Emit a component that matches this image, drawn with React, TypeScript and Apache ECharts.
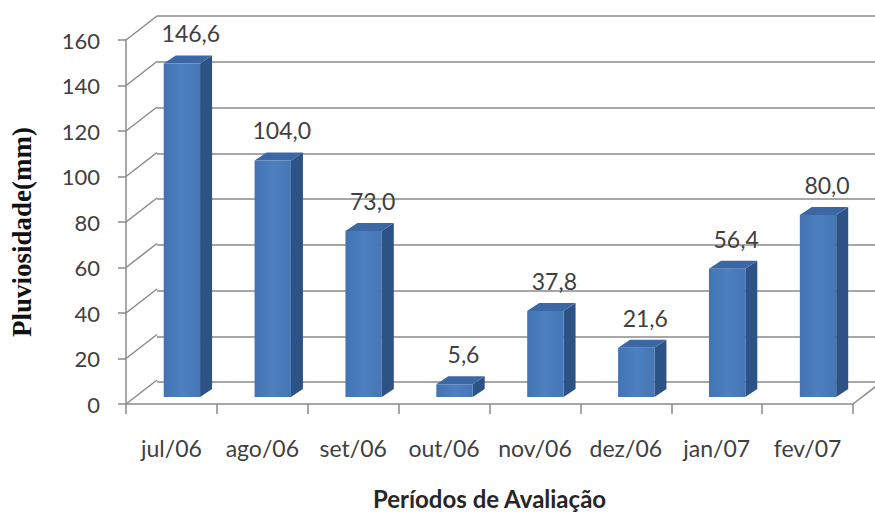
import React, { useEffect, useRef } from 'react';
import * as echarts from 'echarts';

const categories = ['jul/06', 'ago/06', 'set/06', 'out/06', 'nov/06', 'dez/06', 'jan/07', 'fev/07'];
const rainfall = [146.6, 104.0, 73.0, 5.6, 37.8, 21.6, 56.4, 80.0];
const yTicks = [0, 20, 40, 60, 80, 100, 120, 140, 160];

const xTitle = 'Períodos de Avaliação';
const yTitle = 'Pluviosidade(mm)';

const DEPTH_X = 31;
const DEPTH_Y = -24;
const GRID_LEFT = 126;
const GRID_TOP = 40;
const GRID_W = 727;
const GRID_H = 366;

const FONT = 'Lato, "Open Sans", sans-serif';
const LINE = '#8a8a8a';
const TEXT = '#404040';

export default function App() {
  const ref = useRef<HTMLDivElement>(null);
  useEffect(() => {
    const chart = echarts.init(ref.current!, null, { renderer: 'svg' });

    const wallSeries = {
      type: 'custom',
      xAxisIndex: 0,
      yAxisIndex: 0,
      clip: false,
      z: 1,
      data: yTicks.map((v) => [0, v]),
      renderItem: (params: any, api: any) => {
        const v = api.value(1);
        const p = api.coord([0, v]);
        const band = api.size([1, 0])[0];
        const x0 = p[0] - band / 2;
        const children: any[] = [
          {
            type: 'line',
            shape: { x1: x0, y1: p[1], x2: x0 + DEPTH_X, y2: p[1] + DEPTH_Y },
            style: { stroke: LINE, lineWidth: 1.5 },
          },
        ];
        if (v === 0) {
          const q = api.coord([categories.length - 1, 0]);
          const xr = q[0] + band / 2;
          children.push({
            type: 'line',
            shape: { x1: xr, y1: q[1], x2: xr + DEPTH_X, y2: q[1] + DEPTH_Y },
            style: { stroke: LINE, lineWidth: 1.5 },
          });
        }
        return { type: 'group', children };
      },
    };

    const barSeries = {
      type: 'custom',
      xAxisIndex: 0,
      yAxisIndex: 0,
      clip: false,
      z: 5,
      data: rainfall.map((v, i) => [i, v]),
      renderItem: (params: any, api: any) => {
        const i = api.value(0);
        const v = api.value(1);
        const top = api.coord([i, v]);
        const base = api.coord([i, 0]);
        const band = api.size([1, 0])[0];
        const w = band * 0.4;
        const cx = top[0] + band * 0.115;
        const xl = cx - w / 2;
        const xr = cx + w / 2;
        const yt = top[1] - 7;
        const yb = base[1] - 7;
        const dx = 12;
        const dy = -8;
        return {
          type: 'group',
          children: [
            {
              type: 'polygon',
              shape: { points: [[xr, yb], [xr, yt], [xr + dx, yt + dy], [xr + dx, yb + dy]] },
              style: { fill: '#2D5286' },
            },
            {
              type: 'polygon',
              shape: { points: [[xl, yt], [xr, yt], [xr + dx, yt + dy], [xl + dx, yt + dy]] },
              style: { fill: '#3B68A4' },
            },
            {
              type: 'rect',
              shape: { x: xl, y: yt, width: w, height: yb - yt },
              style: {
                fill: new echarts.graphic.LinearGradient(0, 0, 1, 0, [
                  { offset: 0, color: '#4373B2' },
                  { offset: 0.5, color: '#4C80C1' },
                  { offset: 1, color: '#4676B5' },
                ]),
              },
            },
            {
              type: 'text',
              x: cx + 9,
              y: yt - 30,
              style: {
                text: v.toFixed(1).replace('.', ','),
                align: 'center',
                verticalAlign: 'middle',
                fontSize: 23,
                fontFamily: FONT,
                fill: TEXT,
              },
            },
          ],
        };
      },
    };

    chart.setOption({
      animation: false,
      backgroundColor: '#ffffff',
      grid: [
        { left: GRID_LEFT, top: GRID_TOP, width: GRID_W, height: GRID_H },
        { left: GRID_LEFT + DEPTH_X, top: GRID_TOP + DEPTH_Y, width: GRID_W, height: GRID_H },
      ],
      xAxis: [
        {
          type: 'category',
          gridIndex: 0,
          data: categories,
          axisLine: { show: true, lineStyle: { color: LINE, width: 1.5 } },
          axisTick: { show: true, length: 10, interval: 0, lineStyle: { color: LINE, width: 1.5 } },
          axisLabel: { color: TEXT, fontSize: 23, fontFamily: FONT, margin: 32, interval: 0 },
          splitLine: { show: false },
          name: xTitle,
          nameLocation: 'middle',
          nameGap: 82,
          nameTextStyle: { color: '#262626', fontSize: 24, fontWeight: 'bold', fontFamily: FONT },
        },
        { type: 'category', gridIndex: 1, data: categories, show: false },
      ],
      yAxis: [
        {
          type: 'value',
          gridIndex: 0,
          min: 0,
          max: 160,
          interval: 20,
          axisLine: { show: true, lineStyle: { color: LINE, width: 1.5 } },
          axisTick: { show: true, length: 8, lineStyle: { color: LINE, width: 1.5 } },
          axisLabel: { color: TEXT, fontSize: 22, fontFamily: FONT, margin: 26 },
          splitLine: { show: false },
        },
        {
          type: 'value',
          gridIndex: 1,
          min: 0,
          max: 160,
          interval: 20,
          axisLine: { show: false },
          axisTick: { show: false },
          axisLabel: { show: false },
          splitLine: { show: true, lineStyle: { color: LINE, width: 1.5 } },
        },
      ],
      graphic: [
        {
          type: 'text',
          x: 22,
          y: 232,
          rotation: Math.PI / 2,
          style: {
            text: yTitle,
            align: 'center',
            verticalAlign: 'middle',
            fontSize: 27,
            fontWeight: 'bold',
            fontFamily: '"Liberation Serif", "DejaVu Serif", serif',
            fill: '#111111',
          },
        },
      ],
      series: [wallSeries, barSeries],
    });
    return () => chart.dispose();
  }, []);
  return (
    <div
      ref={ref}
      style={{ position: 'fixed', left: 0, top: 0, width: 875, height: 515 }}
    />
  );
}
